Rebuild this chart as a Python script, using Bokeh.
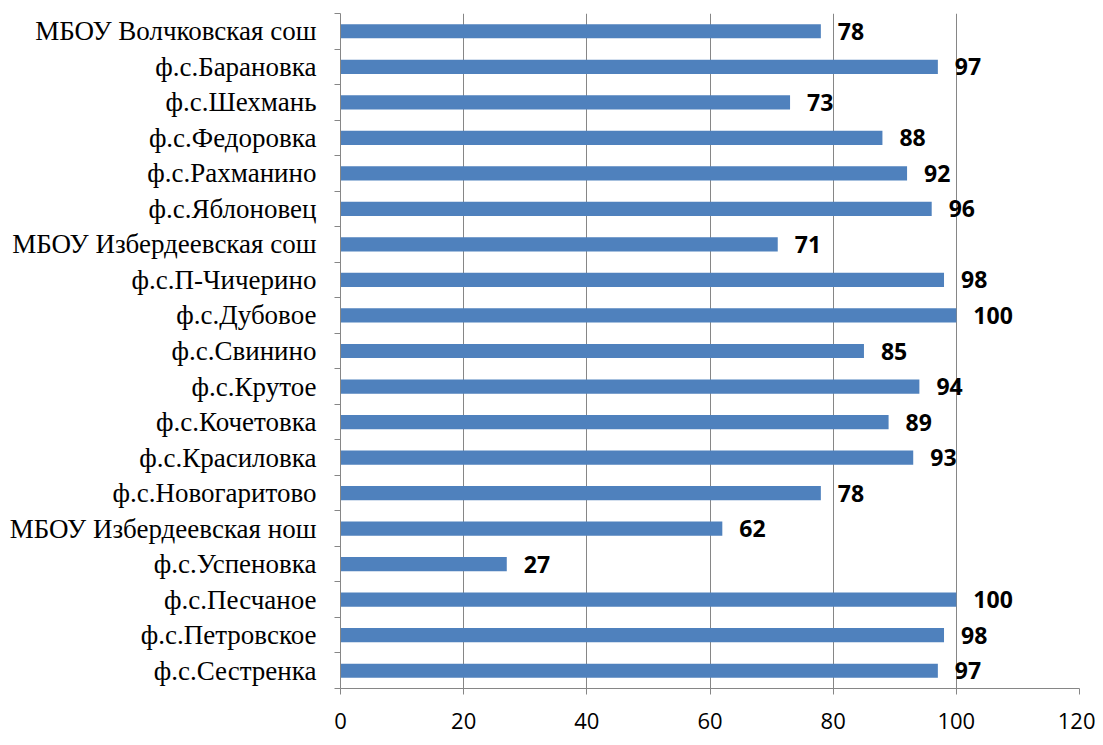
from bokeh.plotting import figure
from bokeh.models import Range1d, FixedTicker, ColumnDataSource
from bokeh.core.properties import value
from bokeh.embed import file_html
from bokeh.resources import INLINE

# data (top to bottom as in the reference)
categories = [
    "МБОУ Волчковская сош",
    "ф.с.Барановка",
    "ф.с.Шехмань",
    "ф.с.Федоровка",
    "ф.с.Рахманино",
    "ф.с.Яблоновец",
    "МБОУ Избердеевская сош",
    "ф.с.П-Чичерино",
    "ф.с.Дубовое",
    "ф.с.Свинино",
    "ф.с.Крутое",
    "ф.с.Кочетовка",
    "ф.с.Красиловка",
    "ф.с.Новогаритово",
    "МБОУ Избердеевская нош",
    "ф.с.Успеновка",
    "ф.с.Песчаное",
    "ф.с.Петровское",
    "ф.с.Сестренка",
]
values = [78, 97, 73, 88, 92, 96, 71, 98, 100, 85, 94, 89, 93, 78, 62, 27, 100, 98, 97]
x_ticks = [0, 20, 40, 60, 80, 100, 120]

n = len(categories)
pos = [n - 1 - i for i in range(n)]  # first category at top
src = ColumnDataSource(dict(y=pos, v=values, lab=[str(v) for v in values]))

p = figure(width=1095, height=737, output_backend="svg", toolbar_location=None,
           x_range=Range1d(0, 120), y_range=Range1d(-0.5, n - 0.5),
           min_border_left=340, min_border_right=16, min_border_top=13, min_border_bottom=49)
p.outline_line_color = None
p.background_fill_color = "white"

p.hbar(y="y", right="v", left=0, height=0.4, source=src, fill_color="#4F81BD", line_color=None)
p.text(x="v", y="y", text="lab", source=src, x_offset=17, text_baseline="middle",
       text_align="left", text_font=value("Open Sans"), text_font_style="bold",
       text_font_size="23px", text_color="black")

grid_col = "#868686"
# x axis
p.xaxis.ticker = FixedTicker(ticks=x_ticks)
p.xaxis.axis_line_color = grid_col
p.xaxis.major_tick_line_color = grid_col
p.xaxis.major_tick_out = 6
p.xaxis.major_tick_in = 0
p.xaxis.minor_tick_line_color = None
p.xaxis.major_label_standoff = 18
p.xaxis.major_label_text_font = "Open Sans"
p.xaxis.major_label_text_font_size = "22px"
p.xaxis.major_label_text_color = "black"

# y axis: labels at centres, small ticks between categories
p.yaxis.ticker = FixedTicker(ticks=pos, minor_ticks=[k - 0.5 for k in range(n + 1)])
p.yaxis.major_label_overrides = {pp: c for pp, c in zip(pos, categories)}
p.yaxis.axis_line_color = grid_col
p.yaxis.major_tick_line_color = None
p.yaxis.minor_tick_line_color = grid_col
p.yaxis.minor_tick_out = 6
p.yaxis.minor_tick_in = 0
p.yaxis.major_label_standoff = 18
p.yaxis.major_label_text_font = "Liberation Serif"
p.yaxis.major_label_text_font_size = "27px"
p.yaxis.major_label_text_color = "black"

p.xgrid.grid_line_color = grid_col
p.xgrid.ticker = FixedTicker(ticks=x_ticks)
p.ygrid.grid_line_color = None

open("out.html", "w").write(file_html(p, INLINE))
